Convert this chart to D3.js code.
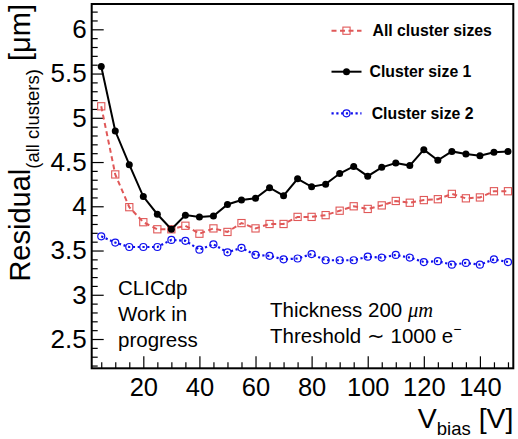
<!DOCTYPE html>
<html>
<head>
<meta charset="utf-8">
<script src="https://cdn.jsdelivr.net/npm/d3@7"></script>
<style>
  html, body { margin: 0; padding: 0; background: #fff; }
  svg { display: block; font-family: "Liberation Sans", Arial, Helvetica, sans-serif; }
</style>
</head>
<body>
<svg id="chart" width="518" height="439"></svg>
<script>
// Bias voltage scan points [V]
const vbias = [5, 10, 15, 20, 25, 30, 35, 40, 45, 50, 55, 60, 65, 70, 75,
               80, 85, 90, 95, 100, 105, 110, 115, 120, 125, 130, 135, 140, 145, 150];

// Residual [um] per cluster class
const allSizes = [5.13, 4.36, 3.99, 3.82, 3.74, 3.74, 3.78, 3.69, 3.75, 3.71,
                  3.81, 3.75, 3.80, 3.80, 3.88, 3.88, 3.90, 3.95, 4.00, 3.97,
                  4.01, 4.06, 4.04, 4.07, 4.08, 4.14, 4.09, 4.10, 4.17, 4.17];
const size1    = [5.58, 4.85, 4.47, 4.11, 3.91, 3.74, 3.90, 3.88, 3.89, 4.02,
                  4.07, 4.09, 4.21, 4.12, 4.31, 4.22, 4.25, 4.37, 4.45, 4.34,
                  4.44, 4.49, 4.46, 4.64, 4.52, 4.62, 4.59, 4.57, 4.61, 4.62];
const size2    = [3.66, 3.59, 3.54, 3.54, 3.54, 3.62, 3.61, 3.51, 3.57, 3.48,
                  3.53, 3.45, 3.44, 3.40, 3.41, 3.46, 3.39, 3.39, 3.39, 3.43,
                  3.42, 3.45, 3.42, 3.37, 3.38, 3.34, 3.36, 3.34, 3.40, 3.37];

const xTicks = [20, 40, 60, 80, 100, 120, 140];
const yTicks = [2.5, 3, 3.5, 4, 4.5, 5, 5.5, 6];
const legendLabels = ["All cluster sizes", "Cluster size 1", "Cluster size 2"];

const svg = d3.select("#chart");
const frame = { left: 91.7, right: 513.3, top: 4, bottom: 368.3 };

const x = d3.scaleLinear().domain([1.6, 151.9]).range([frame.left, frame.right]);
const y = d3.scaleLinear().domain([2.169, 6.286]).range([frame.bottom, frame.top]);

// Axes with inward ticks (major + minor)
const minorX = d3.range(5, 151, 5).filter(v => v % 20 !== 0);
const minorY = d3.range(22, 63, 1).map(v => v / 10).filter(v => Math.round(v * 10) % 5 !== 0);

const gx = svg.append("g").attr("transform", `translate(0,${frame.bottom})`);
gx.call(d3.axisBottom(x).tickValues(minorX).tickSize(-6).tickFormat(""));
gx.append("g").call(d3.axisBottom(x).tickValues(xTicks).tickSize(-12).tickPadding(10).tickFormat(d3.format("d")));
gx.selectAll(".domain").remove();
gx.selectAll("line").attr("stroke", "#000").attr("stroke-width", 1.2);
gx.selectAll("text").attr("font-size", 25.5).attr("fill", "#000")
  .attr("font-family", "Liberation Sans, Arial, sans-serif");

const gy = svg.append("g").attr("transform", `translate(${frame.left},0)`);
gy.call(d3.axisLeft(y).tickValues(minorY).tickSize(-6).tickFormat(""));
gy.append("g").call(d3.axisLeft(y).tickValues(yTicks).tickSize(-12).tickPadding(5).tickFormat(d => d3.format("")(d)));
gy.selectAll(".domain").remove();
gy.selectAll("line").attr("stroke", "#000").attr("stroke-width", 1.2);
gy.selectAll("text").attr("font-size", 26).attr("fill", "#000")
  .attr("font-family", "Liberation Sans, Arial, sans-serif");

// Frame
svg.append("rect")
  .attr("x", frame.left).attr("y", frame.top)
  .attr("width", frame.right - frame.left).attr("height", frame.bottom - frame.top)
  .attr("fill", "none").attr("stroke", "#000").attr("stroke-width", 2);

const line = d3.line().x(d => x(d[0])).y(d => y(d[1]));
const series = [
  { name: legendLabels[0], vals: allSizes, color: "#e05858", dash: "5,3.5", width: 2, marker: "square" },
  { name: legendLabels[1], vals: size1, color: "#000000", dash: null, width: 2, marker: "dot" },
  { name: legendLabels[2], vals: size2, color: "#1010ee", dash: "2.2,2.6", width: 2.2, marker: "circle" }
];

function drawMarker(g, type, cx, cy, color) {
  if (type === "square") {
    g.append("rect").attr("x", cx - 3.6).attr("y", cy - 3.6).attr("width", 7.2).attr("height", 7.2)
      .attr("fill", "none").attr("stroke", color).attr("stroke-width", 1.1);
  } else if (type === "dot") {
    g.append("circle").attr("cx", cx).attr("cy", cy).attr("r", 3.5).attr("fill", color);
  } else {
    g.append("circle").attr("cx", cx).attr("cy", cy).attr("r", 3.5)
      .attr("fill", "none").attr("stroke", color).attr("stroke-width", 1.2);
  }
}

series.forEach(s => {
  const pts = vbias.map((v, i) => [v, s.vals[i]]);
  svg.append("path").datum(pts).attr("d", line)
    .attr("fill", "none").attr("stroke", s.color).attr("stroke-width", s.width)
    .attr("stroke-dasharray", s.dash);
  const mg = svg.append("g");
  pts.forEach(p => drawMarker(mg, s.marker, x(p[0]), y(p[1]), s.color));
});

// Legend
const legendY = [30.7, 71.7, 113.3];
const legendTextX = [372.5, 369.5, 371.7];
series.forEach((s, i) => {
  const g = svg.append("g");
  g.append("line").attr("x1", 331.5).attr("x2", 361.5).attr("y1", legendY[i]).attr("y2", legendY[i])
    .attr("stroke", s.color).attr("stroke-width", s.width).attr("stroke-dasharray", s.dash);
  drawMarker(g, s.marker, 346.5, legendY[i], s.color);
  g.append("text").attr("x", legendTextX[i]).attr("y", legendY[i]).attr("dy", "0.35em")
    .attr("font-size", 15.8).attr("font-weight", "bold").attr("fill", "#000").text(s.name);
});

// Axis titles
const xt = svg.append("text").attr("x", 513.5).attr("y", 428).attr("text-anchor", "end")
  .attr("font-size", 28.5).attr("fill", "#000");
xt.append("tspan").text("V");
xt.append("tspan").attr("font-size", 18.5).attr("dy", 7).text("bias");
xt.append("tspan").attr("dy", -7).text(" [V]");

const yt = svg.append("text").attr("transform", "translate(30,4) rotate(-90)")
  .attr("text-anchor", "end").attr("font-size", 29).attr("fill", "#000");
yt.append("tspan").text("Residual");
yt.append("tspan").attr("font-size", 18.5).attr("dy", 9).text("(all clusters)");
yt.append("tspan").attr("dy", -9).text(" [μm]");

// Annotations
const label = svg.append("g").attr("font-size", 20.5).attr("fill", "#000");
["CLICdp", "Work in", "progress"].forEach((t, i) => {
  label.append("text").attr("x", 118).attr("y", 295 + i * 26).text(t);
});
const t1 = label.append("text").attr("x", 270).attr("y", 316.7);
t1.append("tspan").text("Thickness 200 ");
t1.append("tspan").attr("font-family", "Liberation Serif, Times New Roman, serif").attr("font-style", "italic").text("μm");
const t2 = label.append("text").attr("x", 270).attr("y", 343.3);
t2.append("tspan").text("Threshold ∼ 1000 e");
t2.append("tspan").attr("font-size", 14).attr("dy", -9).text("−");
</script>
</body>
</html>
